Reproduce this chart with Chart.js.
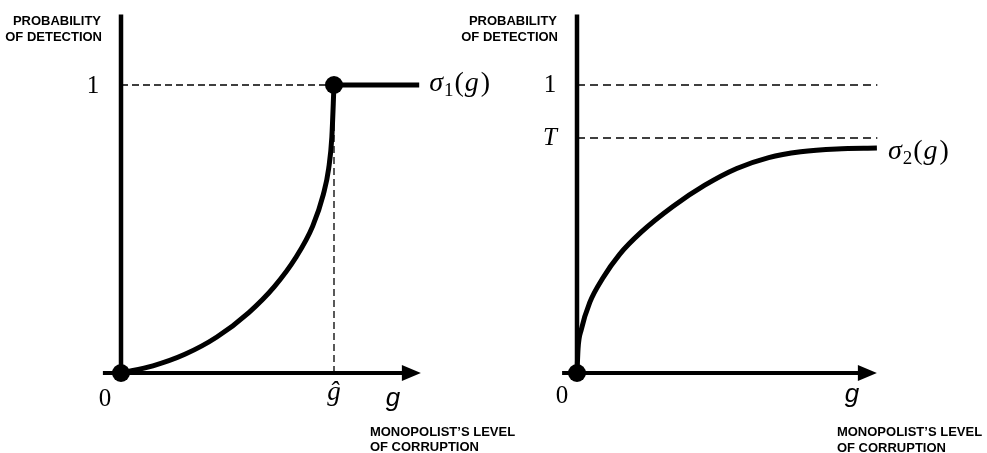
<!DOCTYPE html>
<html>
<head>
<meta charset="utf-8">
<script src="https://cdn.jsdelivr.net/npm/chart.js@4"></script>
<style>
  html, body { margin: 0; padding: 0; background: #fff; }
  #wrap { width: 987px; height: 453px; }
</style>
</head>
<body>
<div id="wrap"><canvas id="detect" width="987" height="453"></canvas></div>
<script>
// left panel: sigma1(g), jumps to 1 at g-hat
const sigma1G = [0, 0.15, 0.30, 0.45, 0.60, 0.72, 0.82, 0.90, 0.95, 0.975, 0.99, 1.0];
const sigma1P = [0, 0.025, 0.065, 0.125, 0.210, 0.300, 0.400, 0.510, 0.620, 0.710, 0.820, 1.0];
const gHat = 1.0;
const sigma1FlatG = [1.0, 1.40];

// right panel: sigma2(g), rises toward T
const sigma2G = [0, 0.005, 0.02, 0.06, 0.12, 0.20, 0.30, 0.45, 0.60, 0.75, 0.90, 1.05, 1.22, 1.408];
const sigma2P = [0, 0.085, 0.150, 0.245, 0.328, 0.412, 0.488, 0.578, 0.652, 0.710, 0.748, 0.768, 0.778, 0.781];
const T = 0.816;

// axes extents (data units)
const gAxisL = [-0.085, 1.408];
const gAxisR = [-0.07, 1.408];
const pAxis = [0, 1.245];
const guideR = [0, 1.41];

const pts = (xs, ys) => xs.map((x, i) => ({ x: x, y: ys[i] }));
const ink = "#000";

function lineSet(data, axis, width, dash, order) {
  return {
    data: data, xAxisID: axis, showLine: true, borderColor: ink,
    borderWidth: width, borderDash: dash || [], pointRadius: 0,
    order: order, fill: false
  };
}

const datasets = [
  // guides
  lineSet([{ x: 0, y: 1 }, { x: gHat, y: 1 }], "xL", 1.3, [7, 4], 9),
  lineSet([{ x: gHat, y: 0 }, { x: gHat, y: 1 }], "xL", 1.3, [7, 4], 9),
  lineSet([{ x: 0, y: 1 }, { x: guideR[1], y: 1 }], "xR", 1.3, [8, 5], 9),
  lineSet([{ x: 0, y: T }, { x: guideR[1], y: T }], "xR", 1.3, [8, 5], 9),
  // axes
  lineSet([{ x: 0, y: pAxis[0] }, { x: 0, y: pAxis[1] }], "xL", 4.5, null, 5),
  lineSet([{ x: gAxisL[0], y: 0 }, { x: gAxisL[1] - 0.05, y: 0 }], "xL", 4, null, 5),
  lineSet([{ x: 0, y: pAxis[0] }, { x: 0, y: pAxis[1] }], "xR", 4.5, null, 5),
  lineSet([{ x: gAxisR[0], y: 0 }, { x: gAxisR[1] - 0.05, y: 0 }], "xR", 4, null, 5),
  // curves
  Object.assign(lineSet(pts(sigma1G, sigma1P), "xL", 5, null, 3), { cubicInterpolationMode: "monotone" }),
  lineSet(pts(sigma1FlatG, [1, 1]), "xL", 5, null, 3),
  Object.assign(lineSet(pts(sigma2G, sigma2P), "xR", 5, null, 3), { cubicInterpolationMode: "monotone" }),
  // dots
  { data: [{ x: 0, y: 0 }, { x: gHat, y: 1 }], xAxisID: "xL", showLine: false, pointRadius: 9,
    pointBackgroundColor: ink, pointBorderWidth: 0, order: 1 },
  { data: [{ x: 0, y: 0 }], xAxisID: "xR", showLine: false, pointRadius: 9,
    pointBackgroundColor: ink, pointBorderWidth: 0, order: 1 }
];

const serif = "'Liberation Serif', 'DejaVu Serif', serif";
const sans = "'Liberation Sans', Arial, sans-serif";

function sigmaLabel(ctx, x, y, sub) {
  ctx.textAlign = "left";
  ctx.textBaseline = "middle";
  ctx.font = "italic 28px " + serif;
  ctx.fillText("\u03c3", x, y);
  x += ctx.measureText("\u03c3").width + 1;
  ctx.font = "19px " + serif;
  ctx.fillText(sub, x, y + 7);
  x += ctx.measureText(sub).width + 1;
  ctx.font = "28px " + serif;
  ctx.fillText("(", x, y);
  x += ctx.measureText("(").width + 1;
  ctx.font = "italic 28px " + serif;
  ctx.fillText("g", x, y);
  x += ctx.measureText("g").width + 2;
  ctx.font = "28px " + serif;
  ctx.fillText(")", x, y);
}

const drawing = {
  id: "drawing",
  afterDatasetsDraw(chart) {
    const ctx = chart.ctx, y = chart.scales.y;
    [["xL", gAxisL], ["xR", gAxisR]].forEach(([id, ext]) => {
      const xs = chart.scales[id];
      const tip = xs.getPixelForValue(ext[1]), y0 = y.getPixelForValue(0);
      ctx.save();
      ctx.fillStyle = ink;
      ctx.beginPath();
      ctx.moveTo(tip, y0);
      ctx.lineTo(tip - 19, y0 - 8);
      ctx.lineTo(tip - 19, y0 + 8);
      ctx.closePath();
      ctx.fill();
      ctx.restore();
    });
  },
  afterDraw(chart) {
    const ctx = chart.ctx, y = chart.scales.y;
    const xL = chart.scales.xL, xR = chart.scales.xR;
    const y0 = y.getPixelForValue(0), y1 = y.getPixelForValue(1), yTop = y.getPixelForValue(pAxis[1]);
    ctx.save();
    ctx.fillStyle = ink;

    // axis titles
    ctx.font = "bold 13px " + sans;
    ctx.textBaseline = "alphabetic";
    ctx.textAlign = "right";
    [xL, xR].forEach(xs => {
      const ax = xs.getPixelForValue(0);
      ctx.fillText("PROBABILITY", ax - 20, yTop + 11);
      ctx.fillText("OF DETECTION", ax - 19, yTop + 27);
    });
    ctx.textAlign = "left";
    ctx.fillText("MONOPOLIST\u2019S LEVEL", xL.getPixelForValue(gAxisL[1]) - 51, y0 + 63);
    ctx.fillText("OF CORRUPTION", xL.getPixelForValue(gAxisL[1]) - 51, y0 + 78);
    ctx.fillText("MONOPOLIST\u2019S LEVEL", xR.getPixelForValue(gAxisR[1]) - 40, y0 + 63);
    ctx.fillText("OF CORRUPTION", xR.getPixelForValue(gAxisR[1]) - 40, y0 + 79);

    // tick-like math labels
    ctx.textAlign = "center";
    ctx.textBaseline = "middle";
    ctx.font = "25px " + serif;
    ctx.fillText("1", xL.getPixelForValue(0) - 28, y1 + 1);
    ctx.fillText("1", xR.getPixelForValue(0) - 27, y1);
    ctx.fillText("0", xL.getPixelForValue(0) - 16, y0 + 26);
    ctx.fillText("0", xR.getPixelForValue(0) - 15, y0 + 23);
    ctx.font = "italic 25px " + serif;
    ctx.fillText("T", xR.getPixelForValue(0) - 27, y.getPixelForValue(T));
    ctx.font = "italic 27px " + serif;
    ctx.fillText("\u011d", xL.getPixelForValue(gHat), y0 + 20);

    // g axis names
    ctx.font = "italic 26px " + sans;
    ctx.fillText("g", xL.getPixelForValue(gAxisL[1]) - 28, y0 + 26);
    ctx.fillText("g", xR.getPixelForValue(gAxisR[1]) - 25, y0 + 22);

    // curve names
    sigmaLabel(ctx, xL.getPixelForValue(sigma1FlatG[1]) + 10, y1 - 1, "1");
    sigmaLabel(ctx, xR.getPixelForValue(sigma2G[sigma2G.length - 1]) + 11,
      y.getPixelForValue(sigma2P[sigma2P.length - 1]) + 4, "2");
    ctx.restore();
  }
};

const unit = 213;       // pixels per g unit
const yUnit = 288;      // pixels per probability unit
new Chart(document.getElementById("detect"), {
  type: "scatter",
  data: { datasets: datasets },
  options: {
    responsive: false,
    animation: false,
    devicePixelRatio: 1,
    layout: { padding: 0, autoPadding: false },
    plugins: { legend: { display: false }, tooltip: { enabled: false } },
    scales: {
      xL: { type: "linear", display: false, min: -121 / unit, max: (987 - 121) / unit },
      xR: { type: "linear", display: false, min: -577 / unit, max: (987 - 577) / unit },
      y: { type: "linear", display: false, min: -(453 - 373) / yUnit, max: 373 / yUnit }
    }
  },
  plugins: [drawing]
});
</script>
</body>
</html>
